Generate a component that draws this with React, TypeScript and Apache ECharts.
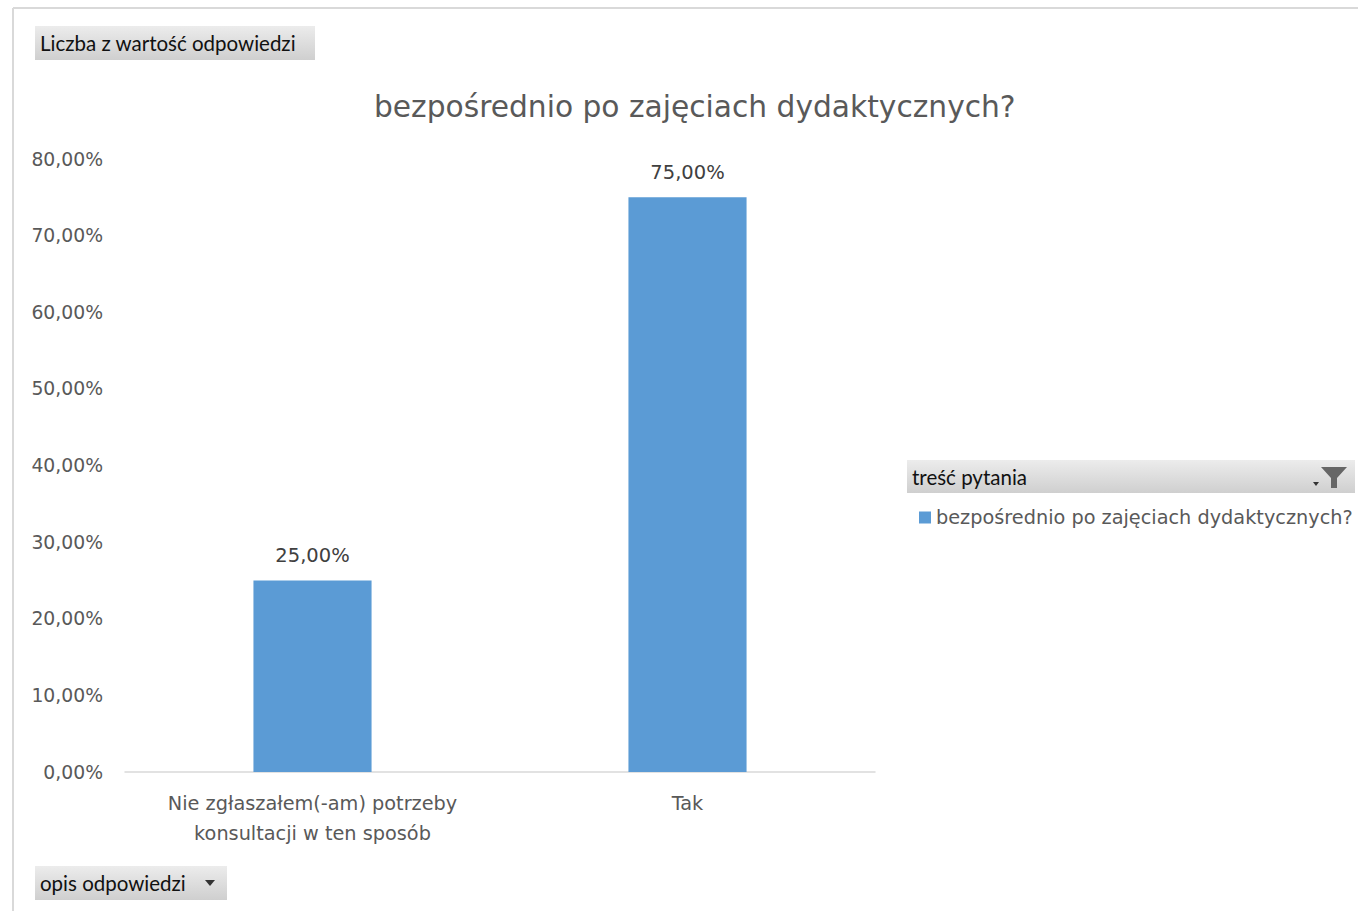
import React, { useEffect, useRef } from "react";
import * as echarts from "echarts";

const categories = ["Nie zgłaszałem(-am) potrzeby\nkonsultacji w ten sposób", "Tak"];
const values = [25, 75];
const seriesName = "bezpośrednio po zajęciach dydaktycznych?";
const chartTitle = "bezpośrednio po zajęciach dydaktycznych?";
const fieldValue = "Liczba z wartość odpowiedzi";
const fieldAxis = "opis odpowiedzi";
const fieldLegend = "treść pytania";

const fmt = (v: number) => v.toFixed(2).replace(".", ",") + "%";

const btnFill = {
  type: "linear", x: 0, y: 0, x2: 0, y2: 1,
  colorStops: [
    { offset: 0, color: "#ececec" },
    { offset: 1, color: "#cfcfcf" },
  ],
};

export default function App() {
  const ref = useRef<HTMLDivElement>(null);
  useEffect(() => {
    if (!ref.current) return;
    const chart = echarts.init(ref.current, undefined, { renderer: "svg" });
    const font = "'DejaVu Sans', 'Noto Sans', sans-serif";
    const btnFont = "Lato, 'Noto Sans', sans-serif";
    chart.setOption({
      animation: false,
      backgroundColor: "#ffffff",
      textStyle: { fontFamily: font },
      title: {
        text: chartTitle,
        left: 369,
        top: 86,
        textStyle: { fontSize: 29.7, fontWeight: "normal", color: "#595959", fontFamily: font },
      },
      legend: {
        left: 914,
        top: 503,
        icon: "rect",
        itemWidth: 12,
        itemHeight: 12,
        itemGap: 6,
        textStyle: { fontSize: 19.3, color: "#595959", fontFamily: font },
        data: [seriesName],
      },
      grid: { left: 125, right: 484, top: 159, bottom: 911 - 772, containLabel: false },
      xAxis: {
        type: "category",
        data: categories,
        axisLine: { lineStyle: { color: "#d9d9d9", width: 1.5 } },
        axisTick: { show: false },
        axisLabel: { interval: 0, hideOverlap: false, color: "#595959", fontSize: 19.3, lineHeight: 30, margin: 16, fontFamily: font },
      },
      yAxis: {
        type: "value",
        min: 0,
        max: 80,
        interval: 10,
        splitLine: { show: false },
        axisLine: { show: false },
        axisTick: { show: false },
        axisLabel: { color: "#595959", fontSize: 18.8, margin: 22, formatter: (v: number) => fmt(v), fontFamily: font },
      },
      series: [
        {
          name: seriesName,
          type: "bar",
          data: values,
          barWidth: "31.5%",
          itemStyle: { color: "#5b9bd5" },
          label: {
            show: true,
            position: "top",
            distance: 15,
            color: "#404040",
            fontSize: 19.5,
            fontFamily: font,
            formatter: (p: any) => fmt(p.value),
          },
        },
      ],
      graphic: [
        { type: "line", shape: { x1: 13, y1: 8, x2: 1358, y2: 8 }, style: { stroke: "#d9d9d9", lineWidth: 2 } },
        { type: "line", shape: { x1: 13, y1: 8, x2: 13, y2: 911 }, style: { stroke: "#d9d9d9", lineWidth: 2 } },
        {
          type: "group",
          left: 35,
          top: 26,
          children: [
            { type: "rect", shape: { x: 0, y: 0, width: 280, height: 34 }, style: { fill: btnFill } },
            { type: "text", x: 5, y: 17, style: { text: fieldValue, fill: "#111", font: `20.5px ${btnFont}`, textVerticalAlign: "middle" } },
          ],
        },
        {
          type: "group",
          left: 35,
          top: 866,
          children: [
            { type: "rect", shape: { x: 0, y: 0, width: 192, height: 34 }, style: { fill: btnFill } },
            { type: "text", x: 5, y: 17, style: { text: fieldAxis, fill: "#111", font: `20.5px ${btnFont}`, textVerticalAlign: "middle" } },
            { type: "polygon", shape: { points: [[170, 14], [180, 14], [175, 20]] }, style: { fill: "#333" } },
          ],
        },
        {
          type: "group",
          left: 907,
          top: 460,
          children: [
            { type: "rect", shape: { x: 0, y: 0, width: 448, height: 33 }, style: { fill: btnFill } },
            { type: "text", x: 5, y: 17, style: { text: fieldLegend, fill: "#111", font: `20.5px ${btnFont}`, textVerticalAlign: "middle" } },
            { type: "polygon", shape: { points: [[414, 7], [440, 7], [430, 18], [430, 28], [424, 28], [424, 18]] }, style: { fill: "#666" } },
            { type: "polygon", shape: { points: [[406, 22], [412, 22], [409, 26]] }, style: { fill: "#333" } },
          ],
        },
      ],
    });
    return () => chart.dispose();
  }, []);
  return <div ref={ref} style={{ position: "fixed", left: 0, top: 0, width: 1359, height: 911 }} />;
}
